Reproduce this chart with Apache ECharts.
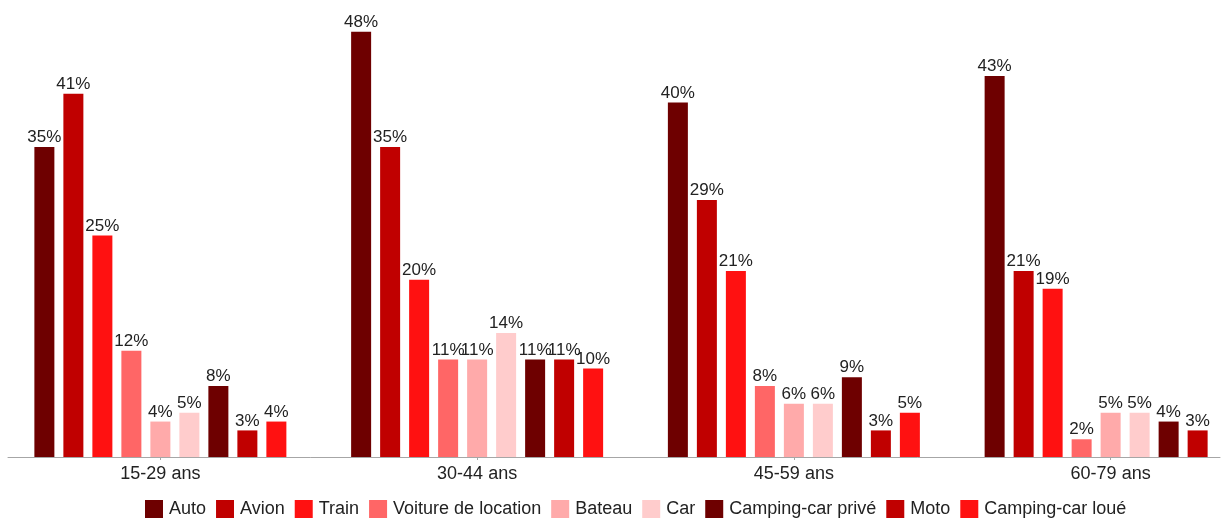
<!DOCTYPE html>
<html>
<head>
<meta charset="utf-8">
<script src="https://cdn.jsdelivr.net/npm/echarts@6/dist/echarts.min.js"></script>
<style>
  html, body { margin: 0; padding: 0; background: #fff; }
  #chart { width: 1226px; height: 519px; }
</style>
</head>
<body>
<div id="chart"></div>
<script>
  var categories = ['15-29 ans', '30-44 ans', '45-59 ans', '60-79 ans'];
  var seriesNames = ['Auto', 'Avion', 'Train', 'Voiture de location', 'Bateau', 'Car', 'Camping-car privé', 'Moto', 'Camping-car loué'];
  var auto = [35, 48, 40, 43];
  var avion = [41, 35, 29, 21];
  var train = [25, 20, 21, 19];
  var voiture = [12, 11, 8, 2];
  var bateau = [4, 11, 6, 5];
  var car = [5, 14, 6, 5];
  var campingPrive = [8, 11, 9, 4];
  var moto = [3, 11, 3, 3];
  var campingLoue = [4, 10, 5, null];
  var values = [auto, avion, train, voiture, bateau, car, campingPrive, moto, campingLoue];
  var colors = ['#6e0000', '#c00000', '#ff1111', '#ff6666', '#ffaaaa', '#ffcccc', '#6e0000', '#c00000', '#ff1111'];

  var myChart = echarts.init(document.getElementById('chart'));
  var series = [];
  for (var i = 0; i < seriesNames.length; i++) {
    series.push({
      name: seriesNames[i],
      type: 'bar',
      data: values[i],
      barWidth: 20,
      barGap: '45%',
      itemStyle: { color: colors[i] },
      label: {
        show: true,
        position: 'top',
        distance: 1,
        formatter: '{c}%',
        color: '#222',
        fontSize: 17,
        fontFamily: 'Liberation Sans'
      }
    });
  }
  // ligne de base dessinée par une seconde grille (8 -> 1220)
  series.push({
    type: 'bar',
    xAxisIndex: 1,
    yAxisIndex: 1,
    data: [null],
    silent: true
  });
  var option = {
    animation: false,
    color: colors,
    grid: [
      { left: 2, width: 1267, top: 14, bottom: 62, outerBoundsMode: 'none' },
      { left: 8, right: 6, top: 14, bottom: 62 }
    ],
    legend: {
      data: seriesNames,
      bottom: 1,
      left: 145,
      padding: 0,
      itemWidth: 18,
      itemHeight: 18,
      itemGap: 10,
      icon: 'rect',
      textStyle: { fontSize: 18, color: '#222', fontFamily: 'Liberation Sans', padding: [0, 0, 0, 1] }
    },
    xAxis: [{
      type: 'category',
      data: categories,
      axisLine: { show: false },
      axisTick: { show: true, alignWithLabel: true, length: 3, lineStyle: { color: '#a6a6a6' } },
      axisLabel: { fontSize: 18, color: '#222', fontFamily: 'Liberation Sans', margin: 8 }
    }, {
      type: 'category',
      gridIndex: 1,
      data: [''],
      axisLine: { lineStyle: { color: '#a6a6a6', width: 1 } },
      axisTick: { show: false },
      axisLabel: { show: false }
    }],
    yAxis: [{
      type: 'value',
      min: 0,
      max: 50,
      show: false,
      splitLine: { show: false }
    }, {
      type: 'value',
      gridIndex: 1,
      min: 0,
      max: 50,
      show: false
    }],
    series: series
  };
  myChart.setOption(option);
</script>
</body>
</html>
